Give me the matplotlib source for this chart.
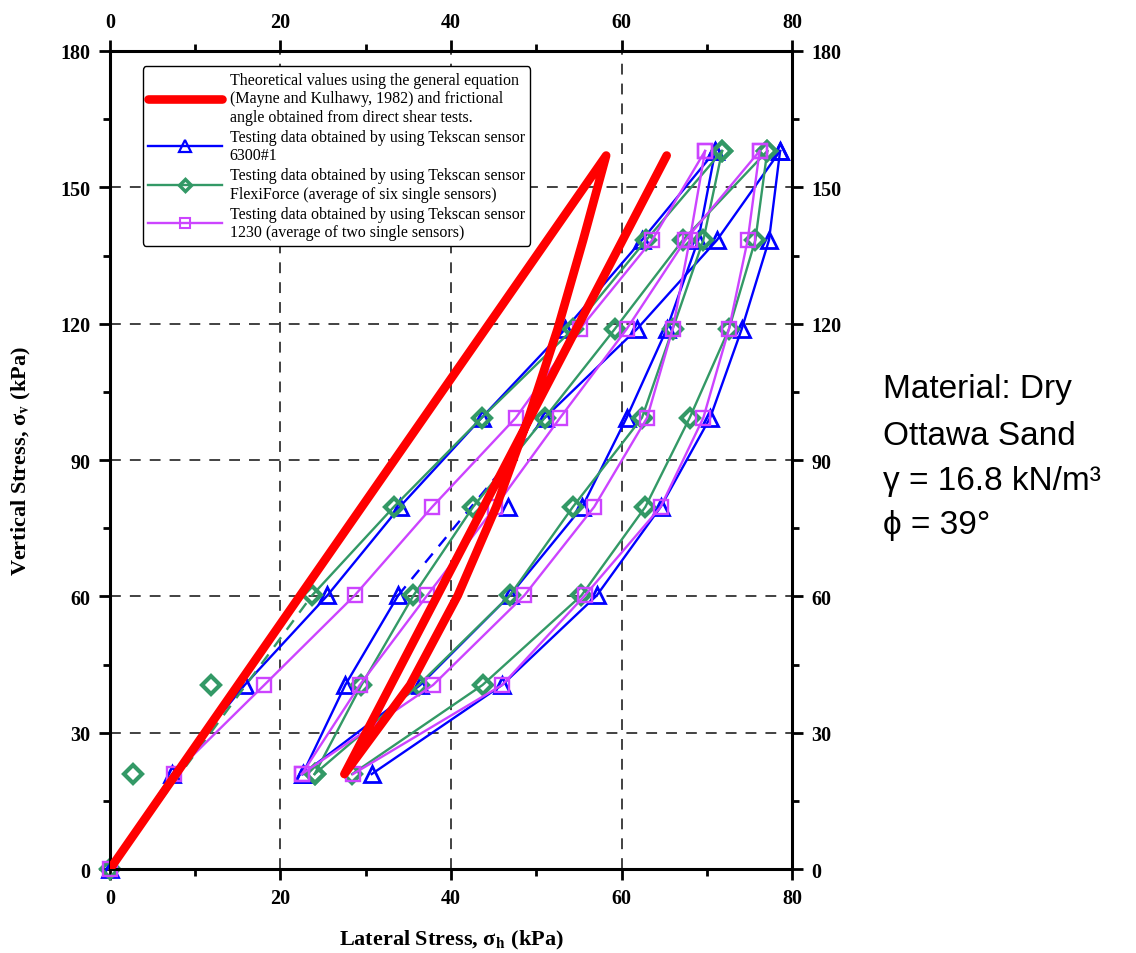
import numpy as np
import matplotlib.pyplot as plt
from matplotlib.lines import Line2D
from matplotlib.ticker import MultipleLocator

plt.rcParams['font.family'] = ['Liberation Serif', 'DejaVu Serif']
plt.rcParams['mathtext.fontset'] = 'stix'

# vertical stress levels (kPa)
sv_up = [0, 20.9, 40.5, 60.2, 79.7, 99.3, 118.8, 138.4, 158.0]
sv_down = [158.0, 138.4, 118.8, 99.3, 79.7, 60.2, 40.5, 20.9]
sv_re = [20.9, 40.5, 60.2, 79.7, 99.3, 118.8, 138.4, 158.0]

# theoretical (Mayne and Kulhawy, 1982)
th_sv = [0, 157.0, 138.4, 118.8, 99.3, 79.7, 60.2, 40.5, 20.9, 157.0]
th_sh = [0, 58.2, 55.5, 52.5, 49.1, 45.3, 40.8, 35.2, 27.5, 65.3]

# Tekscan 6300#1
blue_load = [0, 7.3, 15.8, 25.5, 34.0, 43.6, 53.4, 62.4, 71.0]
blue_unload1 = [71.0, 69.0, 65.3, 60.6, 55.4, 46.9, 36.4, 22.6]
blue_reload_a = [22.6, 27.6, 33.8]          # 20.9 - 60.2
blue_reload_b = [51.0, 61.8, 71.2, 78.6]    # 99.3 - 158
blue_extra = [46.7]                         # at 79.7
blue_unload2 = [78.6, 77.3, 74.1, 70.4, 64.6, 57.1, 46.0, 30.7]

# FlexiForce
green_extra_sv = [20.9, 40.5]
green_extra = [2.7, 11.8]
green_load = [23.7, 33.3, 43.6, 54.3, 62.9, 71.8]   # 60.2 - 158
green_unload1 = [71.8, 69.6, 66.0, 62.4, 54.3, 46.9, 36.2, 24.0]
green_reload = [24.0, 29.5, 35.6, 42.6, 51.0, 59.2, 67.2, 77.1]
green_unload2 = [77.1, 75.7, 72.6, 68.0, 62.8, 55.3, 43.7, 28.4]

# Tekscan 1230
purple_load = [0, 7.5, 18.1, 28.7, 37.8, 47.6, 55.1, 63.6, 69.8]
purple_unload1 = [69.8, 68.0, 66.0, 63.0, 56.8, 48.6, 37.9, 22.5]
purple_reload = [22.5, 29.3, 37.2, 45.2, 52.8, 60.6, 67.5, 76.2]
purple_unload2 = [76.2, 74.8, 72.6, 69.6, 64.6, 55.7, 46.0, 28.5]

blue = '#0000FF'
green = '#339966'
purple = '#CC44FF'
red = '#FF0000'

bmk = dict(marker='^', ms=11.5, mfc='none', mec=blue, mew=2.0, clip_on=False)
gmk = dict(marker='D', ms=9.5, mfc='none', mec=green, mew=3.0, clip_on=False)
pmk = dict(marker='s', ms=9.5, mfc='none', mec=purple, mew=1.7, clip_on=False)

fig = plt.figure(figsize=(11.36, 9.54), dpi=100)
ax = fig.add_axes([0.0968, 0.088, 0.6004, 0.8575])

# blue
ax.plot(blue_load, sv_up, color=blue, lw=1.7, **bmk)
ax.plot(blue_unload1, sv_down, color=blue, lw=1.7, **bmk)
ax.plot(blue_reload_a, sv_re[:3], color=blue, lw=1.7, **bmk)
ax.plot(blue_reload_b, sv_re[4:], color=blue, lw=1.7, **bmk)
ax.plot([blue_reload_a[-1], blue_reload_b[0]], [sv_re[2], sv_re[4]], color=blue, lw=1.7, ls=(0, (5, 4)))
ax.plot(blue_extra, [79.7], ls='none', **bmk)
ax.plot(blue_unload2, sv_down, color=blue, lw=1.7, **bmk)

# green
ax.plot([0, green_load[0]], [0, 60.2], color=green, lw=1.7, ls=(0, (5, 4)))
ax.plot([0], [0], ls='none', **gmk)
ax.plot(green_extra, green_extra_sv, ls='none', **gmk)
ax.plot(green_load, sv_up[3:], color=green, lw=1.7, **gmk)
ax.plot(green_unload1, sv_down, color=green, lw=1.7, **gmk)
ax.plot(green_reload, sv_re, color=green, lw=1.7, **gmk)
ax.plot(green_unload2, sv_down, color=green, lw=1.7, **gmk)

# purple
ax.plot(purple_load, sv_up, color=purple, lw=1.7, **pmk)
ax.plot(purple_unload1, sv_down, color=purple, lw=1.7, **pmk)
ax.plot(purple_reload, sv_re, color=purple, lw=1.7, **pmk)
ax.plot(purple_unload2, sv_down, color=purple, lw=1.7, **pmk)

# theoretical
ax.plot(th_sh, th_sv, color=red, lw=6.2, solid_capstyle='round', solid_joinstyle='round', zorder=5)

ax.set_xlim(0, 80)
ax.set_ylim(0, 180)
ax.xaxis.set_major_locator(MultipleLocator(20))
ax.xaxis.set_minor_locator(MultipleLocator(10))
ax.yaxis.set_major_locator(MultipleLocator(30))
ax.yaxis.set_minor_locator(MultipleLocator(15))
ax.grid(True, which='major', color='#333333', ls=(0, (6, 5)), lw=1.3)
ax.tick_params(which='both', top=True, right=True, labeltop=True, labelright=True,
               direction='out', width=2, labelsize=14.5, pad=6)
ax.tick_params(which='major', length=8)
ax.tick_params(which='minor', length=5)
for t in ax.xaxis.get_major_ticks() + ax.yaxis.get_major_ticks():
    t.label1.set_fontweight('bold')
    t.label2.set_fontweight('bold')
for s in ax.spines.values():
    s.set_linewidth(2.2)

ax.set_xlabel('Lateral Stress, \u03c3$_{\\mathbf{h}}$ (kPa)', fontsize=16, fontweight='bold', labelpad=14)
ax.set_ylabel('Vertical Stress, \u03c3$_{\\mathbf{v}}$ (kPa)', fontsize=16, fontweight='bold', labelpad=20)

handles = [
    Line2D([], [], color=red, lw=6.2, solid_capstyle='round'),
    Line2D([], [], color=blue, marker='^', ms=8, mfc='none', mew=1.6, lw=1.7),
    Line2D([], [], color=green, marker='D', ms=6.5, mfc='none', mew=2.5, lw=1.7),
    Line2D([], [], color=purple, marker='s', ms=7, mfc='none', mew=1.5, lw=1.7),
]
labels = [
    'Theoretical values using the general equation\n(Mayne and Kulhawy, 1982) and frictional\nangle obtained from direct shear tests.',
    'Testing data obtained by using Tekscan sensor\n6300#1',
    'Testing data obtained by using Tekscan sensor\nFlexiForce (average of six single sensors)',
    'Testing data obtained by using Tekscan sensor\n1230 (average of two single sensors)',
]
leg = ax.legend(handles, labels, loc='upper left', bbox_to_anchor=(0.036, 0.991),
                fontsize=11.5, handlelength=4.6, handletextpad=0.5, labelspacing=0.25,
                borderpad=0.35, fancybox=True, framealpha=1, edgecolor='black')
leg.get_frame().set_linewidth(1.0)
leg.set_zorder(10)

side = dict(fontsize=24, family=['Liberation Sans', 'DejaVu Sans'], va='baseline', ha='left')
fig.text(0.777, 1 - 398 / 954, 'Material: Dry', **side)
fig.text(0.777, 1 - 445 / 954, 'Ottawa Sand', **side)
fig.text(0.777, 1 - 490 / 954, '\u03b3 = 16.8 kN/m\u00b3', **side)
fig.text(0.777, 1 - 534 / 954, '\u03d5 = 39\u00b0', **side)

fig.savefig('out.png', dpi=100)
